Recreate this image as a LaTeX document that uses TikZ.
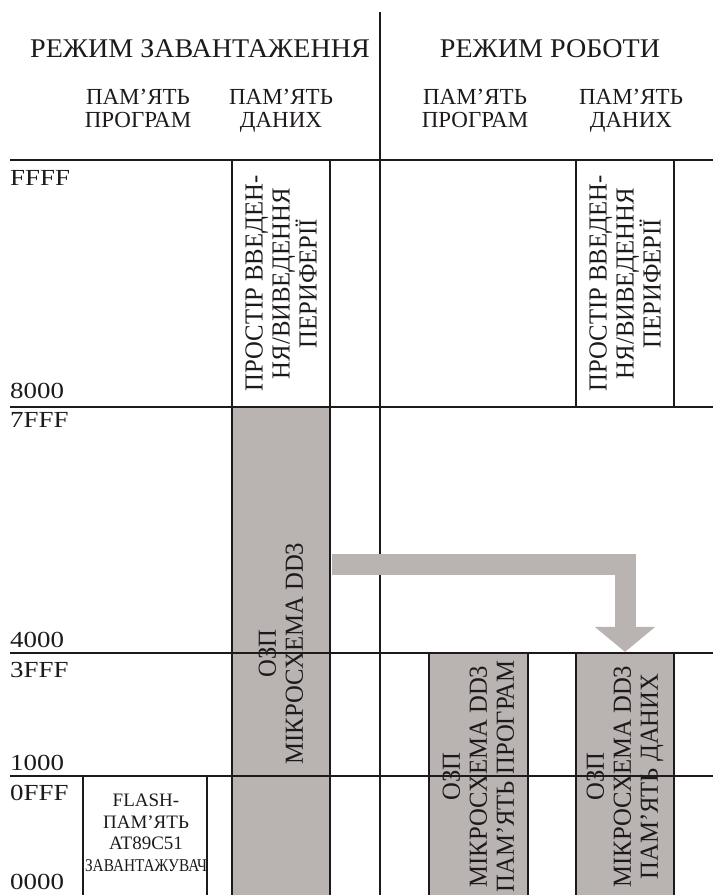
\documentclass[tikz,border=0pt]{standalone}
\usepackage{fontspec}
\usepackage{graphicx}
\setmainfont{Liberation Serif}
\newfontfamily\addrfont[FakeStretch=1.17]{Liberation Serif}
\newfontfamily\vertfont[FakeStretch=0.95]{Liberation Serif}
\newfontfamily\titlefont[FakeStretch=1.04]{Liberation Serif}
\usetikzlibrary{arrows.meta,positioning,calc}
\definecolor{ramgray}{RGB}{185,179,178}
\definecolor{ink}{RGB}{30,26,27}

\begin{document}
\begin{tikzpicture}[x=1pt,y=-1pt,
  grid/.style={draw=ink, line width=2.6pt},
  cell/.style={draw=ink, line width=2.2pt, inner sep=0pt, rotate=90, align=center,
    text=ink, font=\vertfont\fontsize{26}{27}\selectfont},
  ramcell/.style={cell, fill=ramgray},
  head/.style={anchor=north, align=center, inner sep=0pt, text=ink,
    font=\fontsize{23}{23}\selectfont},
  addr/.style={anchor=base west, inner sep=0pt, text=ink,
    font=\addrfont\fontsize{23}{24}\selectfont},
  bigarrow/.style={draw=ramgray, line width=21pt, line join=miter,
    -{Triangle[width=59pt,length=25pt]}}]
  \useasboundingbox (0,0) rectangle (713,895);
  % Mode titles and column heads
  \node[font=\titlefont\fontsize{27}{28}\selectfont, anchor=base, text=ink] (loadmode) at (200,57) {РЕЖИМ ЗАВАНТАЖЕННЯ};
  \node[font=\titlefont\fontsize{27}{28}\selectfont, anchor=base, text=ink] (runmode)  at (550,57) {РЕЖИМ РОБОТИ};
  \node[head] (progL) at (138,89) {ПАМ’ЯТЬ\\ПРОГРАМ};
  \node[head] (dataL) at (281,89) {ПАМ’ЯТЬ\\ДАНИХ};
  \node[head] (progR) at (475,89) {ПАМ’ЯТЬ\\ПРОГРАМ};
  \node[head] (dataR) at (631,89) {ПАМ’ЯТЬ\\ДАНИХ};
  % Memory blocks (rotated, so .south is the right side)
  \node[cell, minimum width=247pt, minimum height=98pt] (ioL) at (281,283.5)
    {ПРОСТІР ВВЕДЕН-\\НЯ/ВИВЕДЕННЯ\\ПЕРИФЕРІЇ};
  \node[cell, minimum width=247pt, minimum height=98pt] (ioR) at (625,283.5)
    {ПРОСТІР ВВЕДЕН-\\НЯ/ВИВЕДЕННЯ\\ПЕРИФЕРІЇ};
  \node[ramcell, minimum width=493pt, minimum height=98pt] (ramL) at (281,653.5)
    {ОЗП\\МІКРОСХЕМА DD3};
  \node[ramcell, minimum width=247pt, minimum height=99pt] (ramP) at (478.5,776.5)
    {ОЗП\\МІКРОСХЕМА DD3\\ПАМ’ЯТЬ ПРОГРАМ};
  \node[ramcell, minimum width=247pt, minimum height=98pt] (ramD) at (625,776.5)
    {ОЗП\\МІКРОСХЕМА DD3\\ПАМ’ЯТЬ ДАНИХ};
  \node[draw=ink, line width=2.2pt, minimum width=124pt, minimum height=124pt] (flash) at (145,838) {};
  \node[align=center, text=ink, font=\fontsize{19}{21.5}\selectfont] (flashtxt) at (146,833)
    {FLASH-\\ПАМ’ЯТЬ\\AT89C51\\{\fontsize{18}{21.5}\selectfont\scalebox{0.85}[1]{ЗАВАНТАЖУВАЧ}}};
  % Address marks
  \foreach \a/\y in {FFFF/185,8000/398,7FFF/427,4000/647,3FFF/677,1000/770,0FFF/800,0000/889}
    \node[addr] (adr\a) at (10,\y) {\a};
  % Grid lines
  \draw[grid] (380,12) -- (380,895);
  \foreach \y in {160,407,653,776}
    \draw[grid] (10,\y) -- (713,\y);
  % Copy of RAM into data space
  \draw[bigarrow] ([xshift=1.1pt,yshift=89pt]ramL.south) -| (ramD.east);
\end{tikzpicture}
\end{document}
